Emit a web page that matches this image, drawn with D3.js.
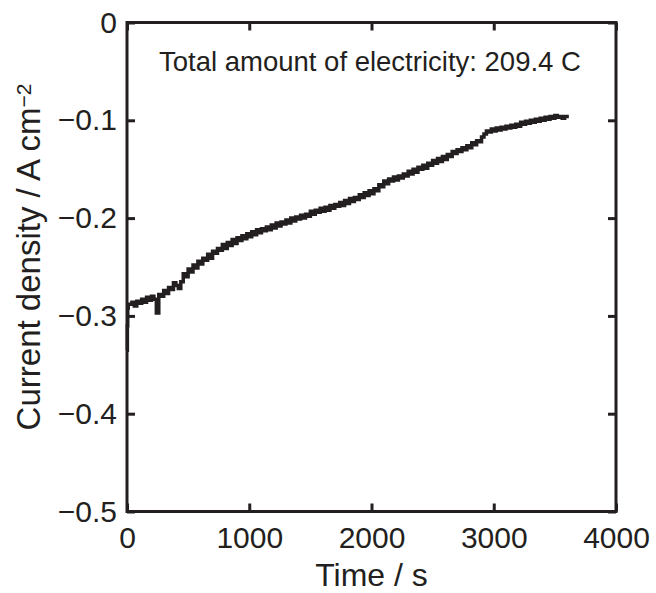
<!DOCTYPE html>
<html>
<head>
<meta charset="utf-8">
<script src="https://cdn.jsdelivr.net/npm/d3@7"></script>
<style>
  body { margin: 0; background: #fff; }
  svg { display: block; font-family: "Liberation Sans", Arial, Helvetica, sans-serif; }
</style>
</head>
<body>
<script>
// time (s) and current density (A cm^-2)
var timeS = [0, 3, 6, 10,
  20, 40, 60, 80, 100, 120, 140, 160, 180, 200, 220, 240, 260, 280, 300, 320, 340, 360, 380, 400,
  420, 440, 460, 480, 500, 520, 540, 560, 580, 600, 620, 640, 660, 680, 700, 720, 740, 760, 780, 800,
  820, 840, 860, 880, 900, 920, 940, 960, 980, 1000, 1020, 1040, 1060, 1080, 1100, 1120, 1140, 1160, 1180, 1200,
  1220, 1240, 1260, 1280, 1300, 1320, 1340, 1360, 1380, 1400, 1420, 1440, 1460, 1480, 1500, 1520, 1540, 1560, 1580, 1600,
  1620, 1640, 1660, 1680, 1700, 1720, 1740, 1760, 1780, 1800, 1820, 1840, 1860, 1880, 1900, 1920, 1940, 1960, 1980, 2000,
  2020, 2040, 2060, 2080, 2100, 2120, 2140, 2160, 2180, 2200, 2220, 2240, 2260, 2280, 2300, 2320, 2340, 2360, 2380, 2400,
  2420, 2440, 2460, 2480, 2500, 2520, 2540, 2560, 2580, 2600, 2620, 2640, 2660, 2680, 2700, 2720, 2740, 2760, 2780, 2800,
  2820, 2840, 2860, 2880, 2900, 2920, 2940, 2960, 2980, 3000, 3020, 3040, 3060, 3080, 3100, 3120, 3140, 3160, 3180, 3200,
  3220, 3240, 3260, 3280, 3300, 3320, 3340, 3360, 3380, 3400, 3420, 3440, 3460, 3480, 3500, 3520, 3540, 3560, 3580, 3600];
var currentDensity = [-0.335, -0.31, -0.292, -0.288,
  -0.288, -0.286, -0.290, -0.285, -0.287, -0.283, -0.286, -0.281, -0.284, -0.280, -0.283, -0.297, -0.278, -0.280, -0.274, -0.277, -0.271, -0.273, -0.266, -0.269,
  -0.272, -0.265, -0.257, -0.260, -0.252, -0.255, -0.248, -0.251, -0.244, -0.247, -0.241, -0.243, -0.237, -0.241, -0.234, -0.236, -0.231, -0.233, -0.227, -0.231,
  -0.225, -0.228, -0.222, -0.226, -0.220, -0.223, -0.218, -0.221, -0.216, -0.219, -0.214, -0.217, -0.212, -0.215, -0.211, -0.213, -0.209, -0.212, -0.207, -0.210,
  -0.205, -0.208, -0.204, -0.206, -0.202, -0.205, -0.200, -0.203, -0.199, -0.201, -0.197, -0.200, -0.196, -0.198, -0.193, -0.196, -0.192, -0.194, -0.190, -0.193,
  -0.189, -0.192, -0.187, -0.190, -0.186, -0.188, -0.184, -0.187, -0.182, -0.185, -0.180, -0.183, -0.179, -0.181, -0.176, -0.179, -0.174, -0.177, -0.172, -0.175,
  -0.170, -0.172, -0.166, -0.168, -0.162, -0.165, -0.160, -0.162, -0.158, -0.161, -0.157, -0.159, -0.155, -0.157, -0.152, -0.155, -0.150, -0.153, -0.148, -0.150,
  -0.146, -0.149, -0.144, -0.146, -0.141, -0.144, -0.139, -0.142, -0.137, -0.140, -0.135, -0.137, -0.132, -0.134, -0.130, -0.132, -0.128, -0.130, -0.126, -0.128,
  -0.123, -0.125, -0.121, -0.122, -0.117, -0.114, -0.111, -0.112, -0.109, -0.111, -0.108, -0.110, -0.107, -0.109, -0.106, -0.108, -0.105, -0.107, -0.104, -0.106,
  -0.102, -0.104, -0.101, -0.103, -0.100, -0.102, -0.099, -0.101, -0.098, -0.100, -0.097, -0.099, -0.096, -0.098, -0.095, -0.097, -0.096, -0.098, -0.096, -0.098];

var xTicks = [0, 1000, 2000, 3000, 4000];
var yTicks = [0, -0.1, -0.2, -0.3, -0.4, -0.5];
var yTickLabels = ["0", "\u22120.1", "\u22120.2", "\u22120.3", "\u22120.4", "\u22120.5"];
var note = "Total amount of electricity: 209.4 C";

var width = 656,
    height = 593;
var margin = {left: 127, right: 40, top: 22.5, bottom: 81.5};
var ink = "#231f20";

var svg = d3.select("body")
    .append("svg")
    .attr("width", width)
    .attr("height", height);

var x = d3.scaleLinear()
    .domain([0, 4000])
    .range([margin.left, width - margin.right]);

var y = d3.scaleLinear()
    .domain([-0.5, 0])
    .range([height - margin.bottom, margin.top]);

// axes, ticks pointing inward on all four sides
var gx = svg.append("g")
    .attr("transform", "translate(0," + y(-0.5) + ")")
    .call(d3.axisBottom(x).tickValues(xTicks).tickSize(-8).tickPadding(15).tickFormat(d3.format("d")));
var gxTop = svg.append("g")
    .attr("transform", "translate(0," + y(0) + ")")
    .call(d3.axisTop(x).tickValues(xTicks).tickSize(-8).tickFormat(""));
var gy = svg.append("g")
    .attr("transform", "translate(" + x(0) + ",0)")
    .call(d3.axisLeft(y).tickValues(yTicks).tickSize(-8).tickPadding(10)
      .tickFormat(function(d, i) { return yTickLabels[i]; }));
var gyRight = svg.append("g")
    .attr("transform", "translate(" + x(4000) + ",0)")
    .call(d3.axisRight(y).tickValues(yTicks).tickSize(-8).tickFormat(""));

[gx, gxTop, gy, gyRight].forEach(function(g) {
  g.select(".domain").remove();
  g.selectAll(".tick line").attr("stroke", ink).attr("stroke-width", 3);
  g.selectAll(".tick text").attr("fill", ink).style("font-size", "30px");
});

svg.append("rect")
    .attr("x", x(0))
    .attr("y", y(0))
    .attr("width", x(4000) - x(0))
    .attr("height", y(-0.5) - y(0))
    .attr("fill", "none")
    .attr("stroke", ink)
    .attr("stroke-width", 3);

// trace
var line = d3.line()
    .x(function(d, i) { return x(timeS[i]); })
    .y(function(d) { return y(d); })
    .curve(d3.curveStepAfter);

svg.append("path")
    .datum(currentDensity)
    .attr("fill", "none")
    .attr("stroke", ink)
    .attr("stroke-width", 3.5)
    .attr("d", line);

svg.append("text")
    .attr("x", 159)
    .attr("y", 71)
    .attr("fill", ink)
    .style("font-size", "27.5px")
    .text(note);

// axis titles
svg.append("text")
    .attr("x", (x(0) + x(4000)) / 2)
    .attr("y", 586)
    .attr("text-anchor", "middle")
    .attr("fill", ink)
    .style("font-size", "32px")
    .text("Time / s");

var yt = svg.append("text")
    .attr("transform", "translate(40," + (y(-0.25) - 10) + ") rotate(-90)")
    .attr("text-anchor", "middle")
    .attr("fill", ink)
    .style("font-size", "33px");
yt.append("tspan").text("Current density / A cm");
yt.append("tspan").attr("dy", "-0.45em").style("font-size", "21px").text("\u22122");
</script>
</body>
</html>
